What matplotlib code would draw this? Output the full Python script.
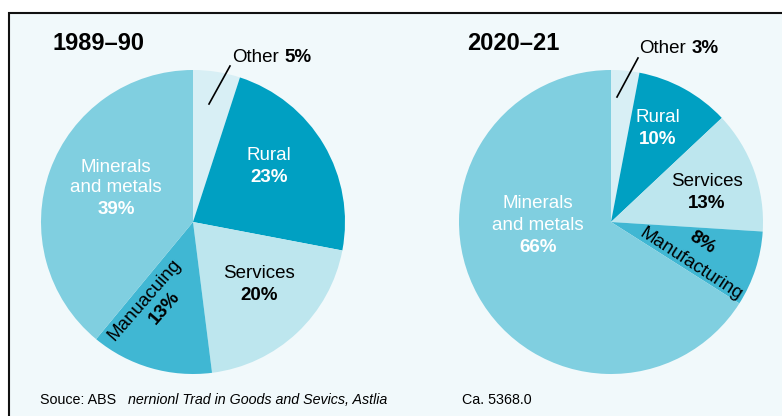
import matplotlib.pyplot as plt
from matplotlib.patches import Rectangle

plt.rcParams['font.family'] = ['Liberation Sans', 'DejaVu Sans']

# slice order: clockwise from 12 o'clock
sectors = ['Other', 'Rural', 'Services', 'Manufacturing', 'Minerals and metals']
share_1989 = [5, 23, 20, 13, 39]
share_2020 = [3, 10, 13, 8, 66]
colours = ['#d8eff5', '#00a0c2', '#bde6ee', '#40b7d3', '#80cfe0']

H = 416


def Y(y):
    # image pixel row -> axes y
    return H - y


fig = plt.figure(figsize=(7.82, 4.16), dpi=100)
fig.patch.set_facecolor('white')
ax = fig.add_axes([0, 0, 1, 1])

# panel frame
ax.add_patch(Rectangle((9, -5), 800, Y(13) + 5, facecolor='#f1f9fb',
                       edgecolor='#111111', lw=1.5, zorder=0))

for vals, cx in [(share_1989, 193), (share_2020, 611)]:
    ax.pie(vals, colors=colours, startangle=90, counterclock=False,
           center=(cx, Y(222)), radius=152, frame=True,
           wedgeprops={'linewidth': 0})
ax.set_xlim(0, 782)
ax.set_ylim(0, H)
ax.set_aspect('equal')
ax.axis('off')

fs = 13.5


def two_line(x, y, name, val, colour, gap=22):
    ax.text(x, Y(y), name, ha='center', va='center', fontsize=fs, color=colour)
    ax.text(x, Y(y + gap), val, ha='center', va='center', fontsize=fs,
            color=colour, fontweight='bold')


# titles
ax.text(52, Y(50), '1989–90', fontsize=17, fontweight='bold', va='baseline')
ax.text(467, Y(50), '2020–21', fontsize=17, fontweight='bold', va='baseline')

# Other labels with leader lines
ax.text(232, Y(62), 'Other', fontsize=fs, va='baseline')
ax.text(284, Y(62), '%d%%' % share_1989[0], fontsize=fs, fontweight='bold',
        va='baseline')
ax.plot([230, 209], [Y(66), Y(104)], color='black', lw=1.2)
ax.text(639, Y(53), 'Other', fontsize=fs, va='baseline')
ax.text(692, Y(53), '%d%%' % share_2020[0], fontsize=fs, fontweight='bold',
        va='baseline')
ax.plot([638, 617], [Y(58), Y(97)], color='black', lw=1.2)

# 1989-90 labels
ax.text(116, Y(167), 'Minerals', ha='center', va='center', fontsize=fs,
        color='white')
two_line(116, 188, 'and metals', '%d%%' % share_1989[4], 'white')
two_line(269, 155, 'Rural', '%d%%' % share_1989[1], 'white', gap=23)
two_line(259, 273, 'Services', '%d%%' % share_1989[2], 'black')
ax.text(145, Y(300), 'Manuacuing', ha='center', va='center', fontsize=fs,
        rotation=49, rotation_mode='anchor')
ax.text(165, Y(308), '%d%%' % share_1989[3], ha='center', va='center',
        fontsize=fs, fontweight='bold', rotation=49, rotation_mode='anchor')

# 2020-21 labels
ax.text(538, Y(203), 'Minerals', ha='center', va='center', fontsize=fs,
        color='white')
two_line(538, 225, 'and metals', '%d%%' % share_2020[4], 'white')
two_line(658, 118, 'Rural', '%d%%' % share_2020[1], 'white')
two_line(707, 182, 'Services', '%d%%' % share_2020[2], 'black', gap=21)
ax.text(702, Y(243), '%d%%' % share_2020[3], ha='center', va='center',
        fontsize=fs, fontweight='bold', rotation=-33, rotation_mode='anchor')
ax.text(691, Y(264), 'Manufacturing', ha='center', va='center', fontsize=fs,
        rotation=-33, rotation_mode='anchor')

# footer
ax.text(40, Y(404), 'Souce: ABS', fontsize=10.3, va='baseline')
ax.text(128, Y(404), 'nernionl Trad in Goods and Sevics, Astlia',
        fontsize=10.3, style='italic', va='baseline')
ax.text(462, Y(404), 'Ca. 5368.0', fontsize=10.3, va='baseline')

fig.savefig('out.png', dpi=100)
